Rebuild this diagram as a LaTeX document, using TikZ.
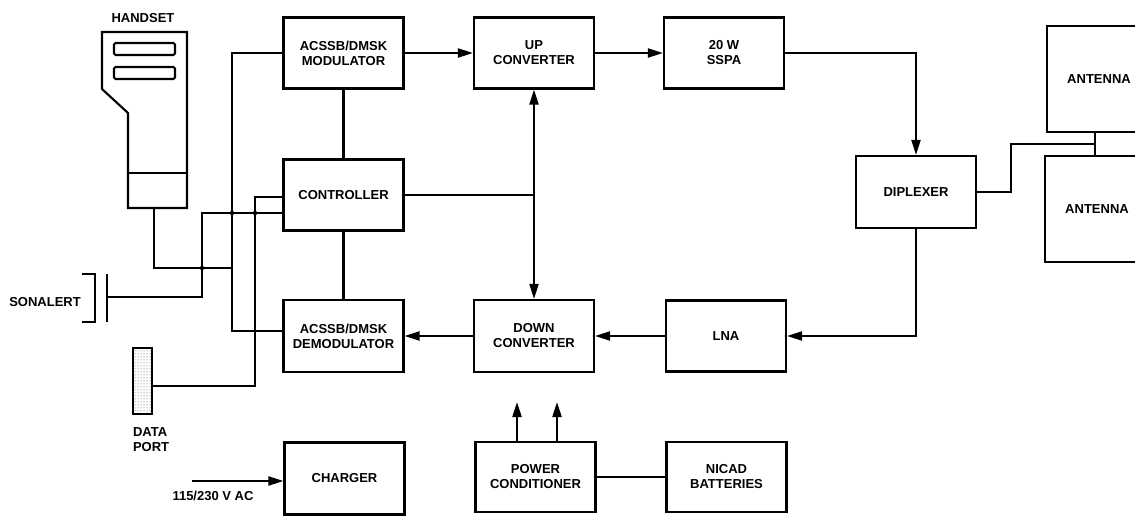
\documentclass[tikz,border=0pt]{standalone}
\usepackage{fontspec}
\setmainfont{Liberation Sans}
\usetikzlibrary{arrows.meta,patterns,calc}
\begin{document}
\begin{tikzpicture}[x=1pt,y=-1pt,
  line width=2.1pt,
  every node/.style={font=\bfseries\fontsize{13}{15}\selectfont},
  box/.style={draw, rectangle, minimum width=120pt, minimum height=71pt, align=center, inner sep=0pt},
  arr/.style={-{Triangle[length=15pt,width=9pt]}},
  darr/.style={{Triangle[length=15pt,width=9pt]}-{Triangle[length=15pt,width=9pt]}},
  jdot/.style={circle, fill, inner sep=0pt, minimum size=4.5pt}
]
\useasboundingbox (0,0) rectangle (1135,516);
\clip (0,0) rectangle (1135,516);

% blocks
\node[box] (mod) at (343.5,53) {ACSSB/DMSK\\MODULATOR};
\node[box] (ctrl) at (343.5,195) {CONTROLLER};
\node[box, minimum height=72pt] (demod) at (343.5,336) {ACSSB/DMSK\\DEMODULATOR};
\node[box, minimum height=72pt] (charger) at (344.5,478.5) {CHARGER};
\node[box] (upconv) at (534,53) {UP\\CONVERTER};
\node[box, minimum height=72pt] (downconv) at (534,336) {DOWN\\CONVERTER};
\node[box, minimum height=70pt] (power) at (535.5,477) {POWER\\CONDITIONER};
\node[box] (sspa) at (724,53) {20 W\\SSPA};
\node[box] (lna) at (726,336) {LNA};
\node[box, minimum height=70pt] (nicad) at (726.5,477) {NICAD\\BATTERIES};
\node[box, minimum height=72pt] (diplexer) at (916,192) {DIPLEXER};
\node[box, minimum width=104pt, minimum height=106pt] (ant1) at (1099,79) {ANTENNA};
\node[box, minimum width=104pt, minimum height=106pt] (ant2) at (1097,209) {ANTENNA};

% handset
\node (hslabel) at (143,18) {HANDSET};
\draw (102,32) -- (187,32) -- (187,208) -- (128,208) -- (128,113) -- (102,89) -- cycle;
\draw (128,173) -- (187,173);
\draw[rounded corners=1.5pt] (114,43) rectangle (175,55);
\draw[rounded corners=1.5pt] (114,67) rectangle (175,79);
\coordinate (hs) at (154,208);

% sonalert
\node (sonlabel) at (45,302) {SONALERT};
\draw (82,274) -- (95,274) -- (95,322) -- (82,322);
\draw (107,274) -- (107,322);
\coordinate (son) at (107,297);

% data port
\node[draw, rectangle, minimum width=19pt, minimum height=66pt, inner sep=0pt,
      pattern=dots, pattern color=black!70] (dport) at (142.5,381) {};
\node[align=left, anchor=north west, inner sep=0pt] (dplabel) at (132,427) {DATA\\PORT};

% AC input
\coordinate (acin) at (192,481);
\draw[arr] (acin) -- (charger.west |- acin);
\node (aclabel) at (213,496) {115/230 V AC};

% signal chain
\draw[arr] (mod.east) -- (upconv.west);
\draw[arr] (upconv.east) -- (sspa.west);
\draw[arr] (sspa.east) -| (diplexer.north);
\draw[arr] (diplexer.south) |- (lna.east);
\draw[arr] (lna.west) -- (downconv.east);
\draw[arr] (downconv.west) -- (demod.east);
\draw[darr] (upconv.south) -- (downconv.north);
\draw (ctrl.east) -- (upconv.south |- ctrl.east);
\draw (mod.south) -- (ctrl.north);
\draw (ctrl.south) -- (demod.north);

% antennas
\coordinate (aj) at (1095,144);
\draw (ant1.south -| aj) -- (ant2.north -| aj);
\draw (diplexer.east) -| (1011,144) -- (aj);

% power
\draw (power.east) -- (nicad.west);
\coordinate (pa) at (517,402);
\coordinate (pb) at (557,402);
\draw[arr] (power.north -| pa) -- (pa);
\draw[arr] (power.north -| pb) -- (pb);

% left bus
\draw (mod.west) -| (232,331) -- (demod.west |- 0,331);
\draw (ctrl.west |- 0,197) -| (255,386) -- (dport.east |- 0,386);
\draw (ctrl.west |- 0,213) -| (202,297) -- (son);
\draw (hs) |- (232,268);
\node[jdot] (j1) at (232,213) {};
\node[jdot] (j2) at (255,213) {};
\node[jdot] (j3) at (202,268) {};
\end{tikzpicture}
\end{document}
